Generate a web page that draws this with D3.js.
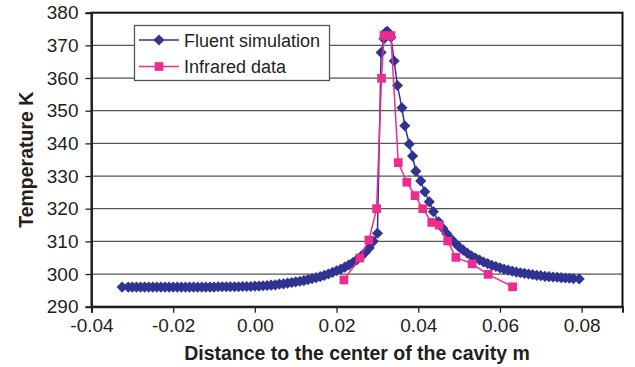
<!DOCTYPE html>
<html>
<head>
<meta charset="utf-8">
<script src="https://cdn.jsdelivr.net/npm/d3@7"></script>
<style>
  body { margin: 0; background: #fff; }
  text { font-family: "Liberation Sans", Arial, sans-serif; fill: #231f20; }
</style>
</head>
<body>
<script>
// Fluent simulation (distance m, temperature K)
var simX = [-0.0325, -0.031, -0.030, -0.029, -0.028, -0.027, -0.026, -0.025, -0.024, -0.023, -0.022, -0.021,
  -0.020, -0.019, -0.018, -0.017, -0.016, -0.015, -0.014, -0.013, -0.012, -0.011, -0.010, -0.009, -0.008,
  -0.007, -0.006, -0.005, -0.004, -0.003, -0.002, -0.001, 0.000, 0.001, 0.002, 0.003, 0.004, 0.005, 0.006,
  0.007, 0.008, 0.009, 0.010, 0.011, 0.012, 0.013, 0.014, 0.015, 0.016, 0.017, 0.018, 0.019, 0.020, 0.021,
  0.022, 0.023, 0.024, 0.025, 0.026, 0.027, 0.028, 0.029, 0.030, 0.0309, 0.0316, 0.0320, 0.0324, 0.0328,
  0.0333, 0.0341, 0.0349, 0.0360, 0.0367, 0.0378, 0.0386, 0.0394, 0.0406, 0.0416, 0.0427, 0.0437, 0.045,
  0.046, 0.047, 0.048, 0.049, 0.050, 0.051, 0.052, 0.053, 0.054, 0.055, 0.056, 0.057, 0.058, 0.059, 0.060,
  0.061, 0.062, 0.063, 0.064, 0.065, 0.066, 0.067, 0.068, 0.069, 0.070, 0.071, 0.072, 0.073, 0.074, 0.075,
  0.076, 0.077, 0.078, 0.0794];
var simT = [296.0, 296.0, 296.0, 296.0, 296.0, 296.0, 296.0, 296.0, 296.0, 296.0, 296.0, 296.0,
  296.0, 296.0, 296.0, 296.0, 296.0, 296.0, 296.0, 296.0, 296.0, 296.0, 296.0, 296.1, 296.1,
  296.1, 296.1, 296.1, 296.1, 296.2, 296.2, 296.2, 296.3, 296.3, 296.4, 296.5, 296.6, 296.7, 296.9,
  297.0, 297.2, 297.4, 297.6, 297.8, 298.0, 298.3, 298.6, 298.9, 299.2, 299.6, 300.0, 300.5, 301.0, 301.5,
  302.1, 302.8, 303.5, 304.4, 305.4, 306.6, 308.0, 310.0, 312.5, 367.8, 372.0, 374.0, 374.3, 373.5,
  372.5, 365.2, 357.7, 350.9, 345.4, 339.8, 336.1, 331.5, 328.5, 325.2, 322.1, 319.1, 316.0,
  314.0, 312.3, 310.8, 309.5, 308.3, 307.3, 306.4, 305.6, 304.9, 304.3, 303.7, 303.2, 302.7, 302.3, 301.9,
  301.5, 301.2, 300.9, 300.6, 300.4, 300.2, 300.0, 299.8, 299.6, 299.5, 299.3, 299.2, 299.1, 299.0, 298.9,
  298.8, 298.7, 298.6, 298.5];

// Infrared data
var irX = [0.0218, 0.0257, 0.0279, 0.0298, 0.0310, 0.0316, 0.0333, 0.0351, 0.0372, 0.0392, 0.0411,
  0.0433, 0.0451, 0.0472, 0.0492, 0.0532, 0.0571, 0.0631];
var irT = [298.2, 304.9, 310.4, 320.0, 359.9, 373.0, 373.0, 334.1, 328.1, 324.0, 320.0,
  315.8, 315.0, 310.1, 305.1, 303.1, 299.9, 296.1];

var xTicks = [-0.04, -0.02, 0.00, 0.02, 0.04, 0.06, 0.08];
var yTicks = [290, 300, 310, 320, 330, 340, 350, 360, 370, 380];
var seriesNames = ["Fluent simulation", "Infrared data"];
var navy = "#313392", pink = "#ec2d8f";

var W = 635, H = 367;
var plotLeft = 91.5, plotRight = 622.5, plotTop = 12.7, plotBottom = 306.7;

var svg = d3.select("body").append("svg")
  .attr("width", W)
  .attr("height", H);

var x = d3.scaleLinear().domain([-0.04, 0.09]).range([plotLeft, plotRight]);
var y = d3.scaleLinear().domain([290, 380]).range([plotBottom, plotTop]);

// gridlines
svg.append("g").selectAll("line")
  .data(yTicks.slice(1, -1))
  .enter().append("line")
  .attr("x1", plotLeft).attr("x2", plotRight)
  .attr("y1", function(d) { return y(d); })
  .attr("y2", function(d) { return y(d); })
  .attr("stroke", "#555")
  .attr("stroke-width", 1.3);

// frame
svg.append("rect")
  .attr("x", plotLeft).attr("y", plotTop)
  .attr("width", plotRight - plotLeft).attr("height", plotBottom - plotTop)
  .attr("fill", "none")
  .attr("stroke", "#111")
  .attr("stroke-width", 2);

// axes
var yAxis = d3.axisLeft(y).tickValues(yTicks).tickSize(6).tickPadding(7)
  .tickFormat(d3.format("d"));
var gy = svg.append("g").attr("transform", "translate(" + plotLeft + ",0)").call(yAxis);
var xAxis = d3.axisBottom(x).tickValues(xTicks).tickSize(6).tickPadding(6)
  .tickFormat(function(d) { return d3.format(".2f")(d).replace("\u2212", "-"); });
var gx = svg.append("g").attr("transform", "translate(0," + plotBottom + ")").call(xAxis);

[gx, gy].forEach(function(g) {
  g.select(".domain").attr("stroke", "#222").attr("stroke-width", 2);
  g.selectAll(".tick line").attr("stroke", "#222").attr("stroke-width", 1.3);
  g.selectAll(".tick text")
    .style("font-family", "'Liberation Sans', Arial, sans-serif")
    .style("font-size", "19px")
    .attr("fill", "#231f20");
});

// axis titles
svg.append("text")
  .attr("x", (plotLeft + plotRight) / 2)
  .attr("y", 360)
  .attr("text-anchor", "middle")
  .style("font-size", "19.5px")
  .style("font-weight", "bold")
  .text("Distance to the center of the cavity m");

svg.append("text")
  .attr("transform", "translate(33," + ((plotTop + plotBottom) / 2) + ") rotate(-90)")
  .attr("text-anchor", "middle")
  .style("font-size", "19.5px")
  .style("font-weight", "bold")
  .text("Temperature K");

var line = d3.line()
  .x(function(d) { return x(d[0]); })
  .y(function(d) { return y(d[1]); });

var simData = simX.map(function(d, i) { return [d, simT[i]]; });
var irData = irX.map(function(d, i) { return [d, irT[i]]; });

// diamond = square turned 45 degrees
var diamond = d3.symbol().type(d3.symbolSquare).size(62);
var square = d3.symbol().type(d3.symbolSquare).size(76);

// Fluent simulation
svg.append("path")
  .datum(simData)
  .attr("d", line)
  .attr("fill", "none")
  .attr("stroke", navy)
  .attr("stroke-width", 1.5);

svg.append("g").selectAll("path")
  .data(simData)
  .enter().append("path")
  .attr("d", diamond)
  .attr("transform", function(d) { return "translate(" + x(d[0]) + "," + y(d[1]) + ") rotate(45)"; })
  .attr("fill", navy);

// Infrared data
svg.append("path")
  .datum(irData)
  .attr("d", line)
  .attr("fill", "none")
  .attr("stroke", pink)
  .attr("stroke-width", 1.5);

svg.append("g").selectAll("path")
  .data(irData)
  .enter().append("path")
  .attr("d", square)
  .attr("transform", function(d) { return "translate(" + x(d[0]) + "," + y(d[1]) + ")"; })
  .attr("fill", pink);

// legend
var legend = svg.append("g");
legend.append("rect")
  .attr("x", 134.5).attr("y", 25.5)
  .attr("width", 195).attr("height", 55)
  .attr("fill", "#fff")
  .attr("stroke", "#555")
  .attr("stroke-width", 1.3);

var rows = legend.selectAll("g.row")
  .data(seriesNames)
  .enter().append("g")
  .attr("class", "row")
  .attr("transform", function(d, i) { return "translate(0," + (40 + i * 26.5) + ")"; });

rows.append("line")
  .attr("x1", 139).attr("x2", 179)
  .attr("stroke", function(d, i) { return i ? pink : navy; })
  .attr("stroke-width", 1.5);

rows.append("path")
  .attr("d", function(d, i) { return i ? square() : diamond(); })
  .attr("transform", function(d, i) { return "translate(159,0)" + (i ? "" : " rotate(45)"); })
  .attr("fill", function(d, i) { return i ? pink : navy; });

rows.append("text")
  .attr("x", 184)
  .attr("y", 6.5)
  .style("font-size", "18px")
  .text(function(d) { return d; });
</script>
</body>
</html>
